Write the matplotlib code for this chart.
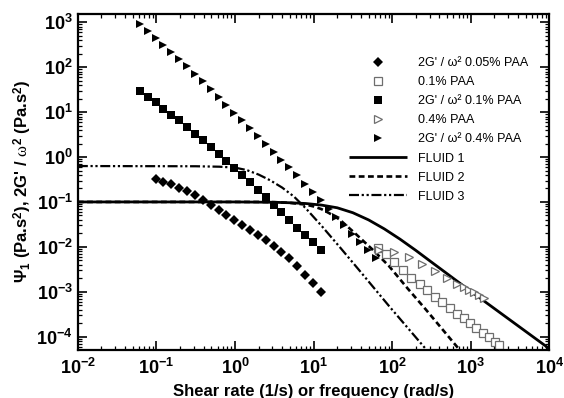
import matplotlib
matplotlib.use("Agg")
import matplotlib.pyplot as plt
from matplotlib.ticker import LogLocator, NullFormatter

plt.rcParams['font.family'] = ['Liberation Sans', 'DejaVu Sans']
plt.rcParams['mathtext.fontset'] = 'custom'
plt.rcParams['mathtext.rm'] = 'Liberation Sans:bold'
plt.rcParams['mathtext.bf'] = 'Liberation Sans:bold'
plt.rcParams['mathtext.it'] = 'Liberation Serif'

# ---- model curves (first normal stress coefficient) ----
fluid1_x = [0.01, 1.0, 3.16, 5.01, 7.94, 12.6, 20.0, 31.6, 50.1, 79.4, 126, 200, 316, 501, 1000, 3162, 10000]
fluid1_y = [0.1, 0.1, 0.0983, 0.0959, 0.0923, 0.0851, 0.0741, 0.0575, 0.0398, 0.0251, 0.0148,
            0.00832, 0.00457, 0.00251, 0.00102, 0.000234, 5.37e-5]

fluid2_x = [0.01, 2.0, 3.16, 5.01, 7.94, 10.0, 12.6, 15.8, 21.4, 34.7, 56.2, 91.2, 158, 269, 708, 1000]
fluid2_y = [0.1, 0.1, 0.0989, 0.0955, 0.0871, 0.0794, 0.0692, 0.0562, 0.0407, 0.0191, 0.00871,
            0.00372, 0.00117, 0.000398, 5.25e-5, 2.51e-5]

fluid3_x = [0.01, 0.316, 0.631, 1.0, 1.41, 2.0, 2.82, 3.98, 5.62, 7.94, 12.6, 21.4, 38.0, 91.2, 251, 398]
fluid3_y = [0.631, 0.624, 0.610, 0.582, 0.513, 0.407, 0.302, 0.209, 0.132, 0.0724, 0.0295, 0.0100,
            0.00302, 0.000479, 6.03e-5, 2.40e-5]

# ---- oscillatory data, 2G'/omega^2 ----
freq = [0.0617, 0.0776, 0.0977, 0.123, 0.155, 0.195, 0.245, 0.309, 0.389, 0.490, 0.617, 0.776,
        0.977, 1.23, 1.55, 1.95, 2.45, 3.09, 3.89, 4.90, 6.17, 7.76, 9.77, 12.3, 15.5, 19.5,
        24.5, 30.9, 38.9, 49.0, 61.7]

g_paa005_x = freq[2:24]
g_paa005_y = [0.324, 0.282, 0.245, 0.209, 0.174, 0.141, 0.112, 0.0871, 0.0676, 0.0513, 0.0389,
              0.0302, 0.0234, 0.0182, 0.0141, 0.0105, 0.00776, 0.00562, 0.0038, 0.0024, 0.00155, 0.0010]

g_paa01_x = freq[:24]
g_paa01_y = [29.2, 21.8, 16.9, 12.0, 8.85, 6.61, 4.68, 3.33, 2.37, 1.68, 1.20, 0.805, 0.571, 0.394,
             0.275, 0.189, 0.129, 0.0875, 0.0598, 0.0391, 0.0264, 0.0181, 0.0126, 0.0086]

g_paa04_x = freq
g_paa04_y = [908, 643, 450, 321, 219, 151, 105, 72.4, 48.8, 32.4, 21.8, 14.8, 9.80, 6.61, 4.45,
             2.95, 1.93, 1.30, 0.879, 0.603, 0.394, 0.257, 0.164, 0.109, 0.0713, 0.0456, 0.0303,
             0.0198, 0.0129, 0.0084, 0.0057]

# ---- steady shear data, Psi_1 ----
psi_paa01_x = [66.3, 83.7, 107, 137, 176, 223, 277, 350, 436, 542, 671, 816, 973, 1175, 1422, 1694, 2018, 2270]
psi_paa01_y = [9.55e-3, 6.84e-3, 4.61e-3, 3.01e-3, 2.07e-3, 1.47e-3, 1.08e-3, 7.66e-4, 5.83e-4,
               4.29e-4, 3.21e-4, 2.53e-4, 2.02e-4, 1.54e-4, 1.21e-4, 9.95e-5, 7.7e-5, 6.4e-5]

psi_paa04_x = [68.2, 107, 164, 243, 355, 497, 675, 816, 944, 1093, 1265, 1463]
psi_paa04_y = [8.6e-3, 7.7e-3, 5.86e-3, 4.2e-3, 2.86e-3, 1.97e-3, 1.47e-3, 1.26e-3, 1.11e-3,
               9.75e-4, 8.57e-4, 7.35e-4]

legend_labels = ["2G' / \u03c9\u00b2 0.05% PAA", "0.1% PAA", "2G' / \u03c9\u00b2 0.1% PAA",
                 "0.4% PAA", "2G' / \u03c9\u00b2 0.4% PAA", "FLUID 1", "FLUID 2", "FLUID 3"]

x_ticks = [1e-2, 1e-1, 1e0, 1e1, 1e2, 1e3, 1e4]
x_ticklabels = [r'$\mathdefault{10^{-2}}$', r'$\mathdefault{10^{-1}}$', r'$\mathdefault{10^{0}}$',
                r'$\mathdefault{10^{1}}$', r'$\mathdefault{10^{2}}$', r'$\mathdefault{10^{3}}$',
                r'$\mathdefault{10^{4}}$']
y_ticks = [1e-4, 1e-3, 1e-2, 1e-1, 1e0, 1e1, 1e2, 1e3]
y_ticklabels = [r'$\mathdefault{10^{-4}}$', r'$\mathdefault{10^{-3}}$', r'$\mathdefault{10^{-2}}$',
                r'$\mathdefault{10^{-1}}$', r'$\mathdefault{10^{0}}$', r'$\mathdefault{10^{1}}$',
                r'$\mathdefault{10^{2}}$', r'$\mathdefault{10^{3}}$']

fig = plt.figure(figsize=(5.64, 3.98), dpi=100)
ax = fig.add_axes([0.138, 0.121, 0.836, 0.845])

gray = '#6e6e6e'
ms = 5.2

l1, = ax.plot(fluid1_x, fluid1_y, color='black', lw=2.0, solid_capstyle='butt')
l2, = ax.plot(fluid2_x, fluid2_y, color='black', lw=1.9, dashes=(2.2, 1.3))
l3, = ax.plot(fluid3_x, fluid3_y, color='black', lw=1.6, dashes=(4.5, 1.2, 1.0, 1.2, 1.0, 1.2))

m1, = ax.plot(g_paa005_x, g_paa005_y, 'D', color='black', ms=ms, mew=0, ls='none')
m2, = ax.plot(psi_paa01_x, psi_paa01_y, 's', mfc='white', mec=gray, mew=0.9, ms=ms, ls='none')
m3, = ax.plot(g_paa01_x, g_paa01_y, 's', color='black', ms=ms, mew=0, ls='none')
m4, = ax.plot(psi_paa04_x, psi_paa04_y, '>', mfc='white', mec=gray, mew=0.9, ms=ms + 1, ls='none')
m5, = ax.plot(g_paa04_x, g_paa04_y, '>', color='black', ms=ms + 1, mew=0, ls='none')

ax.set_xscale('log')
ax.set_yscale('log')
ax.set_xlim(1e-2, 1e4)
ax.set_ylim(5.06e-5, 1.58e3)

ax.set_xticks(x_ticks, labels=x_ticklabels, fontsize=13, fontweight='bold')
ax.set_yticks(y_ticks, labels=y_ticklabels, fontsize=13, fontweight='bold')
ax.xaxis.set_minor_locator(LogLocator(base=10, subs=range(2, 10), numticks=20))
ax.yaxis.set_minor_locator(LogLocator(base=10, subs=range(2, 10), numticks=20))
ax.xaxis.set_minor_formatter(NullFormatter())
ax.yaxis.set_minor_formatter(NullFormatter())
ax.tick_params(which='both', direction='in', top=True, right=True, color='black')
ax.tick_params(which='major', length=6.5, width=1.2)
ax.tick_params(axis='x', which='major', pad=6)
ax.tick_params(axis='y', which='major', pad=3.5)
ax.tick_params(which='minor', length=3.2, width=0.9)
for s in ax.spines.values():
    s.set_linewidth(1.6)

ax.set_xlabel('Shear rate (1/s) or frequency (rad/s)', fontsize=12, fontweight='bold', labelpad=4)
ax.set_ylabel(r"$\mathit{\Psi}_{1}$ (Pa.s$^{2}$), 2G' / $\mathit{\omega}^{2}$ (Pa.s$^{2}$)",
              fontsize=12, fontweight='bold', labelpad=1.5)

ax.legend([m1, m2, m3, m4, m5, l1, l2, l3], legend_labels, loc='upper left',
          bbox_to_anchor=(0.576, 0.871), frameon=False, fontsize=9.0, handlelength=4.6,
          handletextpad=0.85, labelspacing=0.57, borderpad=0, borderaxespad=0, numpoints=1)

fig.savefig('out.png', dpi=100)
